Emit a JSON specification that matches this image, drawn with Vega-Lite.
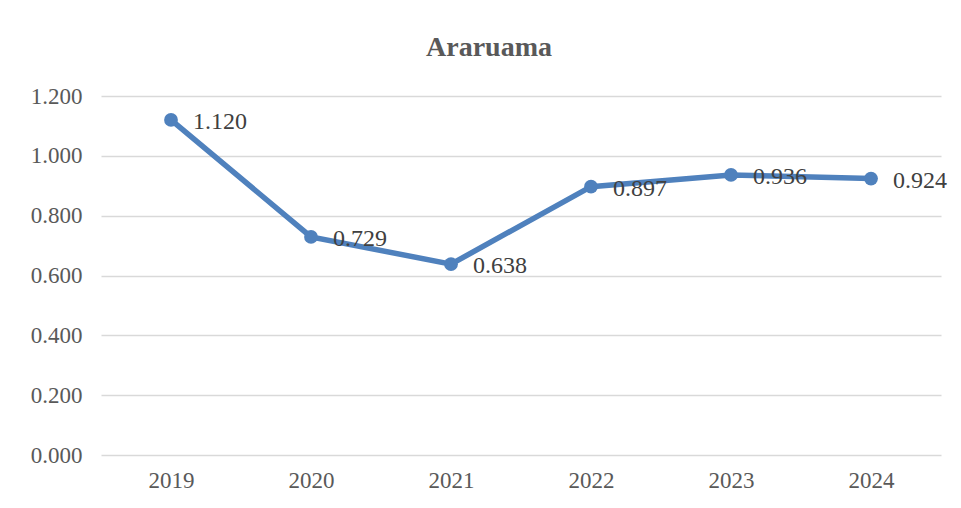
{
  "$schema": "https://vega.github.io/schema/vega-lite/v6.json",
  "autosize": {"type": "none"},
  "width": 840,
  "height": 359,
  "padding": {"left": 101, "top": 96, "right": 20, "bottom": 53},
  "background": "white",
  "title": {
    "text": "Araruama",
    "font": "Liberation Serif",
    "fontSize": 28,
    "fontWeight": "bold",
    "color": "#595959",
    "anchor": "middle",
    "dx": -32,
    "offset": 23
  },
  "data": {
    "values": [
      {"year": "2019", "value": 1.120},
      {"year": "2020", "value": 0.729},
      {"year": "2021", "value": 0.638},
      {"year": "2022", "value": 0.897},
      {"year": "2023", "value": 0.936},
      {"year": "2024", "value": 0.924}
    ]
  },
  "config": {
    "view": {"stroke": null},
    "axis": {
      "labelFont": "Liberation Serif",
      "labelFontSize": 23,
      "labelColor": "#595959",
      "domain": false,
      "ticks": false
    }
  },
  "encoding": {
    "x": {
      "field": "year",
      "type": "ordinal",
      "scale": {"paddingInner": 0, "paddingOuter": 0},
      "axis": {"title": null, "labelAngle": 0, "labelPadding": 14, "grid": false}
    },
    "y": {
      "field": "value",
      "type": "quantitative",
      "scale": {"domain": [0, 1.2], "nice": false},
      "axis": {
        "title": null,
        "values": [0, 0.2, 0.4, 0.6, 0.8, 1.0, 1.2],
        "format": ".3f",
        "labelPadding": 19,
        "grid": true,
        "gridColor": "#d9d9d9",
        "gridWidth": 1.5
      }
    }
  },
  "layer": [
    {
      "mark": {"type": "line", "color": "#4f81bd", "strokeWidth": 5.5, "point": {"filled": true, "color": "#4f81bd", "size": 190, "opacity": 1}}
    },
    {
      "mark": {"type": "text", "align": "left", "baseline": "middle", "dx": 22, "dy": 2, "font": "Liberation Serif", "fontSize": 24, "color": "#404040"},
      "encoding": {"text": {"field": "value", "type": "quantitative", "format": ".3f"}}
    }
  ]
}
